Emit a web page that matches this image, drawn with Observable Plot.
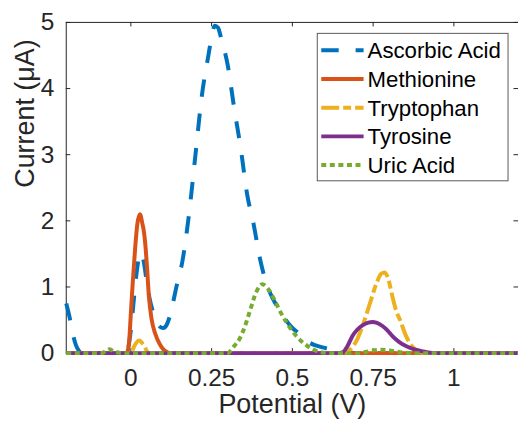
<!DOCTYPE html>
<html><head><meta charset="utf-8">
<script src="https://cdn.jsdelivr.net/npm/d3@7"></script>
<script src="https://cdn.jsdelivr.net/npm/@observablehq/plot@0.6"></script>
<style>html,body{margin:0;padding:0;background:#fff;overflow:hidden;width:518px;height:427px}</style>
</head><body><div id="chart"></div>
<script>
// ---- data ----
const seriesNames = ["Ascorbic Acid", "Methionine", "Tryptophan", "Tyrosine", "Uric Acid"];
const seriesColors = ["#0072BD", "#D95319", "#EDB120", "#7E2F8E", "#77AC30"];
const seriesDashes = ["17.5,17", null, "18,4,8,4", null, "5,3.6"];

const xTicks = [0, 0.25, 0.5, 0.75, 1];
const xTickLabels = ["0", "0.25", "0.5", "0.75", "1"];
const yTicks = [0, 1, 2, 3, 4, 5];
const yTickLabels = ["0", "1", "2", "3", "4", "5"];

const ascorbicX = [-0.2, -0.19, -0.18, -0.17, -0.16, -0.15, -0.1, -0.05, -0.02, -0.01, 0.0, 0.01, 0.02, 0.03, 0.04, 0.05, 0.06, 0.07, 0.08, 0.09, 0.1, 0.11, 0.12, 0.13, 0.14, 0.16, 0.18, 0.2, 0.22, 0.24, 0.25, 0.26, 0.27, 0.28, 0.3, 0.32, 0.34, 0.36, 0.38, 0.4, 0.42, 0.44, 0.46, 0.48, 0.5, 0.52, 0.54, 0.57, 0.6, 0.63, 0.66, 0.7, 0.8, 1.0, 1.2];
const ascorbicY = [0.75, 0.55, 0.3, 0.12, 0.03, 0.0, 0.0, 0.0, 0.0, 0.05, 0.35, 0.85, 1.3, 1.52, 1.38, 1.05, 0.78, 0.6, 0.47, 0.4, 0.38, 0.42, 0.55, 0.75, 0.98, 1.4, 2.1, 3.0, 3.9, 4.5, 4.78, 4.95, 4.92, 4.75, 4.35, 3.7, 3.1, 2.4, 1.95, 1.42, 1.05, 0.82, 0.65, 0.5, 0.38, 0.3, 0.2, 0.12, 0.08, 0.05, 0.02, 0.0, 0.0, 0.0, 0.0];

const methionineX = [-0.2, -0.015, -0.01, -0.005, 0.0, 0.005, 0.013, 0.02, 0.028, 0.036, 0.04, 0.046, 0.05, 0.056, 0.064, 0.075, 0.09, 0.1, 0.11, 0.12, 0.5, 1.2];
const methionineY = [0.0, 0.0, 0.03, 0.2, 0.6, 1.0, 1.57, 1.95, 2.1, 1.95, 1.85, 1.57, 1.3, 0.85, 0.52, 0.3, 0.13, 0.06, 0.02, 0.0, 0.0, 0.0];

const tryptophanX = [-0.2, 0.0, 0.01, 0.025, 0.04, 0.055, 0.3, 0.66, 0.68, 0.7, 0.72, 0.74, 0.76, 0.775, 0.785, 0.795, 0.81, 0.82, 0.835, 0.85, 0.865, 0.88, 0.9, 0.92, 1.2];
const tryptophanY = [0.0, 0.0, 0.1, 0.19, 0.12, 0.0, 0.0, 0.0, 0.06, 0.2, 0.45, 0.75, 1.05, 1.2, 1.22, 1.15, 0.85, 0.66, 0.48, 0.28, 0.14, 0.06, 0.01, 0.0, 0.0];

const tyrosineX = [-0.2, 0.3, 0.64, 0.655, 0.67, 0.686, 0.7, 0.717, 0.735, 0.748, 0.76, 0.779, 0.795, 0.809, 0.83, 0.85, 0.875, 0.9, 0.94, 1.2];
const tyrosineY = [0.0, 0.0, 0.0, 0.01, 0.1, 0.26, 0.35, 0.42, 0.46, 0.47, 0.46, 0.41, 0.34, 0.26, 0.17, 0.11, 0.06, 0.03, 0.0, 0.0];

const uricX = [-0.2, -0.09, -0.075, -0.065, -0.055, -0.04, -0.02, 0.3, 0.315, 0.337, 0.357, 0.37, 0.388, 0.407, 0.425, 0.444, 0.46, 0.481, 0.512, 0.546, 0.583, 0.62, 0.7, 0.74, 0.77, 0.8, 0.84, 0.88, 1.2];
const uricY = [0.0, 0.0, 0.04, 0.06, 0.03, 0.01, 0.0, 0.0, 0.08, 0.22, 0.46, 0.66, 0.92, 1.04, 0.97, 0.81, 0.65, 0.47, 0.26, 0.11, 0.02, 0.0, 0.0, 0.03, 0.05, 0.04, 0.01, 0.0, 0.0];

const seriesX = [ascorbicX, methionineX, tryptophanX, tyrosineX, uricX];
const seriesY = [ascorbicY, methionineY, tryptophanY, tyrosineY, uricY];

// ---- build ----
const FONT = "'Liberation Sans', Arial, Helvetica, sans-serif";
const INK = "#262626";
const X0 = -0.2, X1 = 1.2, Y0 = 0, Y1 = 5;
const W = 520, H = 427, ML = 66, MR = 0, MT = 22, MB = 73;
const TICK = 4.5; // px
const tickDX = TICK * (X1 - X0) / (W - ML - MR);
const tickDY = TICK * (Y1 - Y0) / (H - MT - MB);

const lineMarks = seriesNames.map((name, i) => {
  const rows = seriesX[i].map((x, j) => ({name, x, y: seriesY[i][j]}));
  const opts = {x: "x", y: "y", stroke: seriesColors[i], strokeWidth: 4, curve: "monotone-x", strokeLinecap: "butt", strokeLinejoin: "round"};
  if (seriesDashes[i]) opts.strokeDasharray = seriesDashes[i];
  return Plot.line(rows, opts);
});

const fmtX = d => xTickLabels[xTicks.indexOf(d)];
const fmtY = d => yTickLabels[yTicks.indexOf(d)];

const chart = Plot.plot({
  width: W,
  height: H,
  marginLeft: ML,
  marginRight: MR,
  marginTop: MT,
  marginBottom: MB,
  x: {domain: [X0, X1]},
  y: {domain: [Y0, Y1]},
  style: {fontFamily: FONT, background: "white", color: INK, overflow: "visible"},
  marks: [
    Plot.frame({stroke: INK, strokeWidth: 1}),
    Plot.axisX({anchor: "bottom", ticks: xTicks, tickFormat: fmtX, tickSize: 0, tickPadding: 16, fontSize: 24.5, label: null}),
    Plot.axisY({anchor: "left", ticks: yTicks, tickFormat: fmtY, tickSize: 0, tickPadding: 12, fontSize: 24.5, label: null}),
    // inward tick marks (MATLAB style box)
    Plot.ruleX(xTicks, {x: d => d, y1: Y0, y2: Y0 + tickDY, stroke: INK}),
    Plot.ruleX(xTicks, {x: d => d, y1: Y1, y2: Y1 - tickDY, stroke: INK}),
    Plot.ruleY(yTicks, {y: d => d, x1: X0, x2: X0 + tickDX, stroke: INK}),
    Plot.ruleY(yTicks, {y: d => d, x1: X1, x2: X1 - tickDX, stroke: INK}),
    ...lineMarks,
    Plot.text(["Potential (V)"], {text: d => d, frameAnchor: "bottom", dy: 60.5, fontSize: 27, fill: INK}),
    Plot.text(["Current (μA)"], {text: d => d, frameAnchor: "left", rotate: -90, dx: -41, fontSize: 27, fill: INK})
  ]
});
document.getElementById("chart").appendChild(chart);

// ---- legend ----
const svg = d3.select(chart);
const lg = svg.append("g").attr("font-family", FONT).attr("text-anchor", "start");
lg.append("rect").attr("x", 318.5).attr("y", 33.5).attr("width", 191.5).attr("height", 148)
  .attr("fill", "white").attr("stroke", "#5a5a5a").attr("stroke-width", 1);
seriesNames.forEach((name, i) => {
  const cy = 50.5 + i * 28.8;
  const ln = lg.append("line").attr("x1", 322.5).attr("x2", 365).attr("y1", cy).attr("y2", cy)
    .attr("stroke", seriesColors[i]).attr("stroke-width", 4);
  if (seriesDashes[i]) ln.attr("stroke-dasharray", seriesDashes[i]);
  lg.append("text").attr("x", 369).attr("y", cy).attr("dy", "0.36em")
    .attr("text-anchor", "start").attr("font-size", 22.3).attr("fill", "#000").text(name);
});
</script>
</body></html>
